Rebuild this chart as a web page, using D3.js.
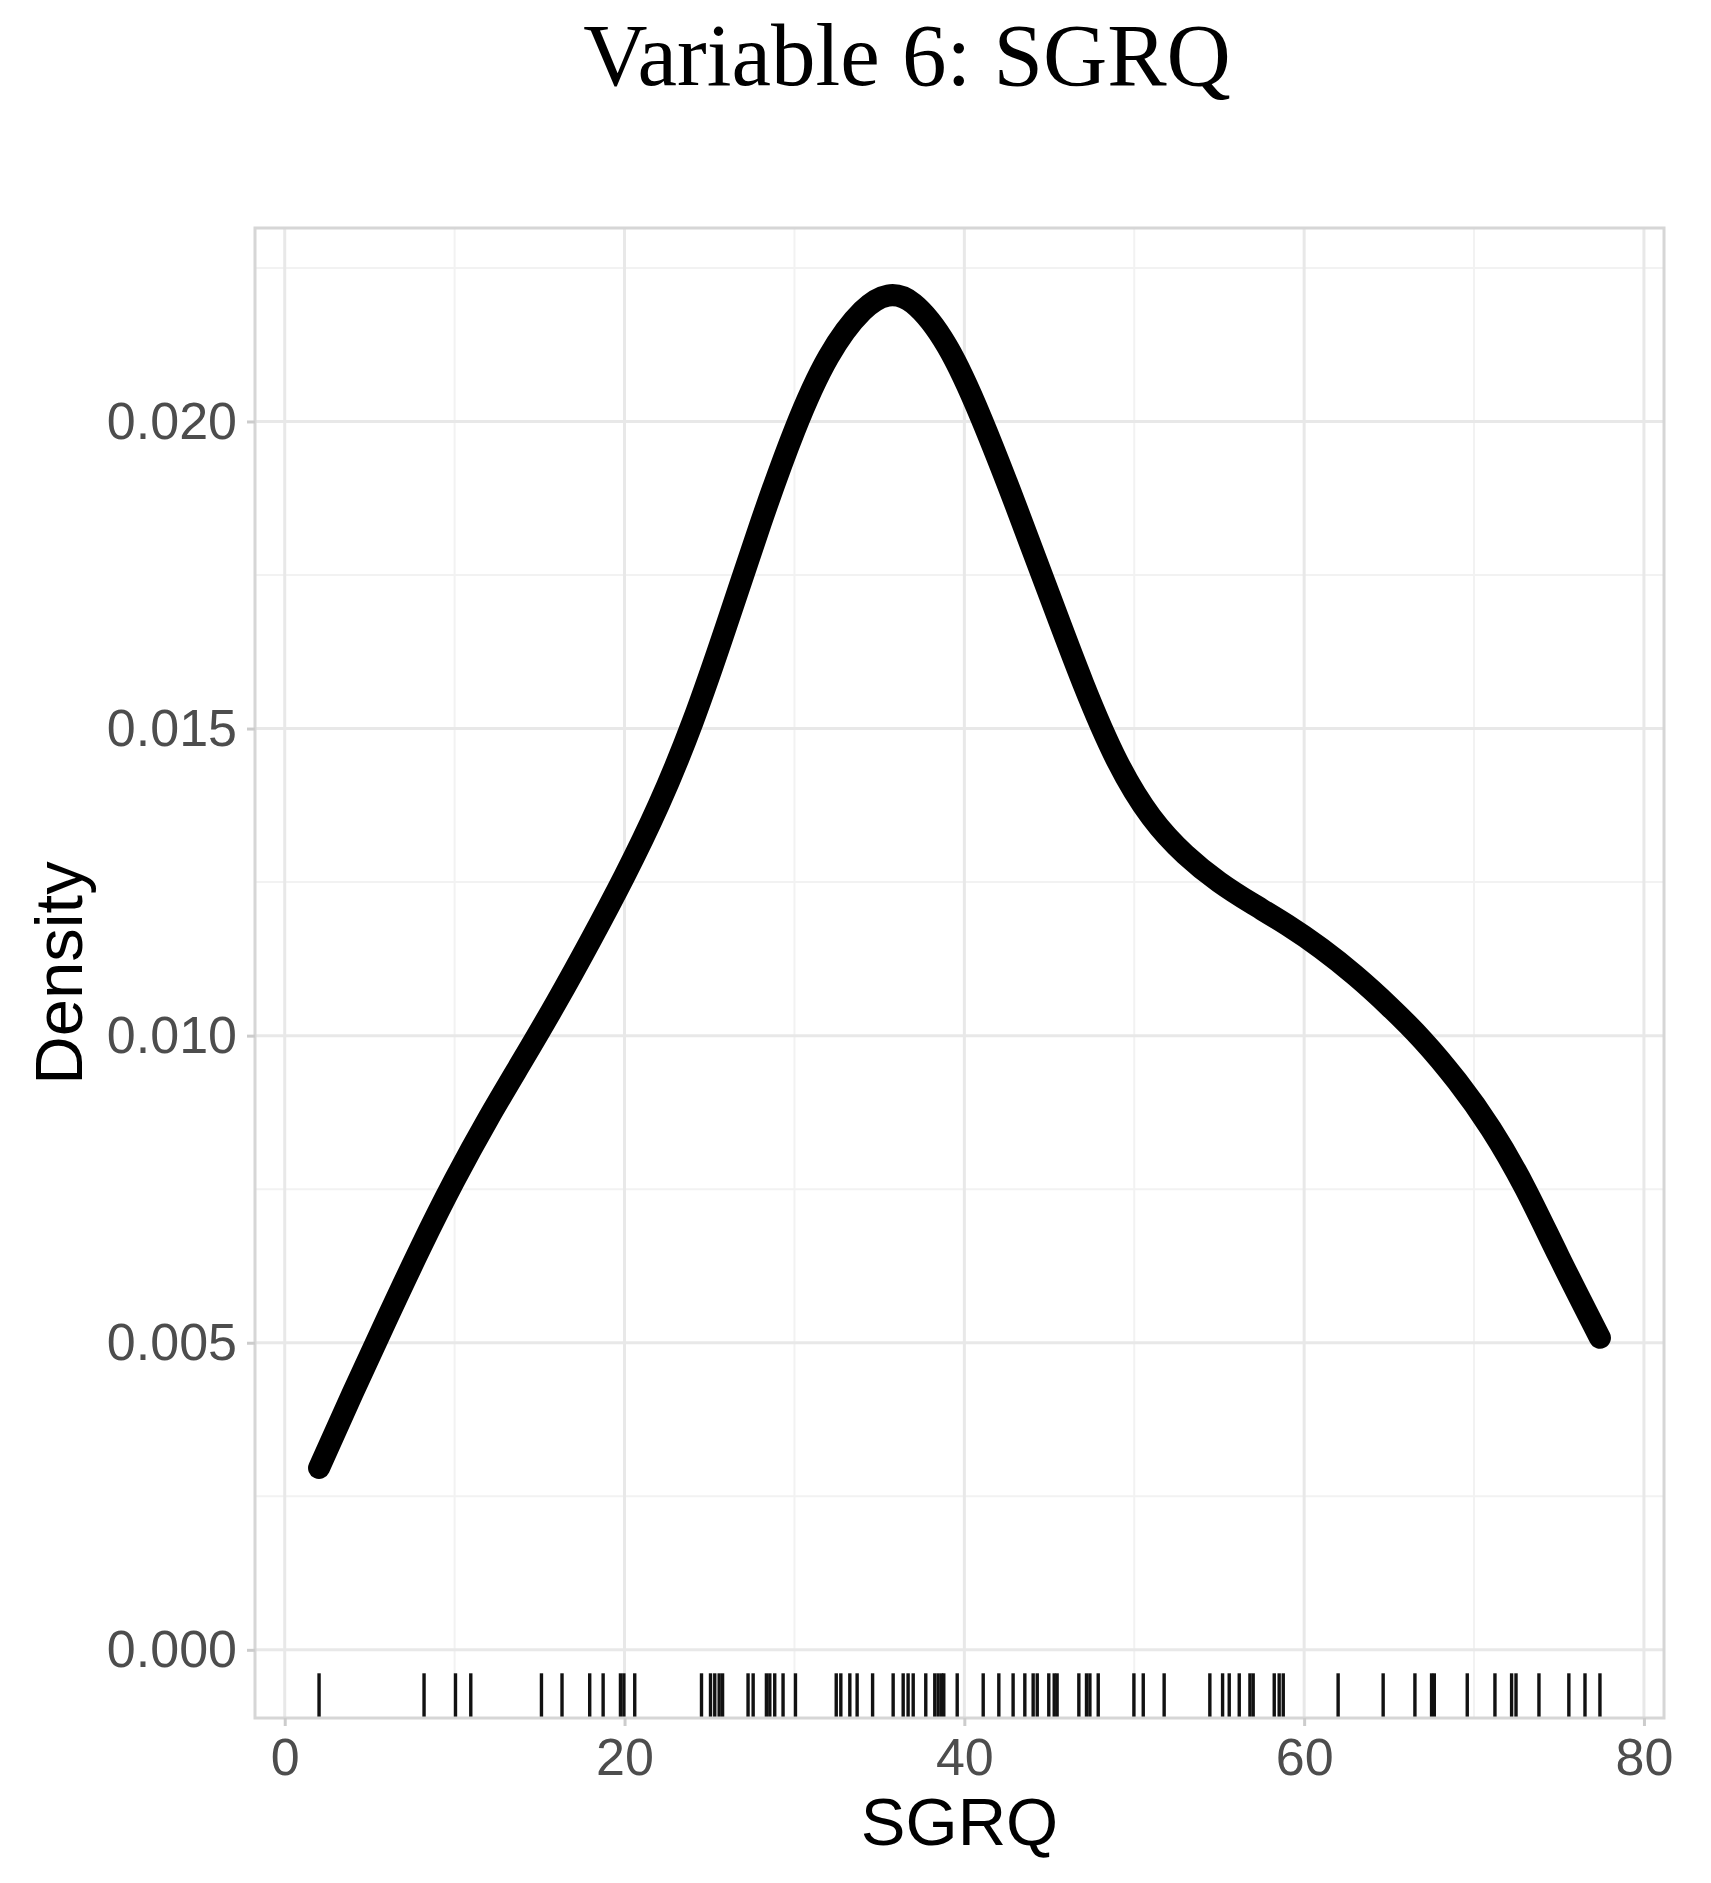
<!DOCTYPE html>
<html>
<head>
<meta charset="utf-8">
<script src="https://cdn.jsdelivr.net/npm/d3@7"></script>
<style>
  html, body { margin: 0; padding: 0; background: #ffffff; }
  svg { display: block; }
</style>
</head>
<body>
<div id="chart"></div>
<script>
// ---- data ----
const densityX = [2.02, 4, 6, 8, 10, 12, 14, 16, 18, 20, 22, 24, 26, 28, 30, 32, 34, 35.5, 37, 39, 41, 43, 45, 47, 49, 51, 53, 55, 57, 59, 61, 63, 65, 67, 69, 71, 73, 75, 77.41];
const densityY = [0.00296, 0.00418, 0.00538, 0.00655, 0.00765, 0.00866, 0.00960, 0.01055, 0.01155, 0.01260, 0.01375, 0.01510, 0.01668, 0.01833, 0.01985, 0.02105, 0.02180, 0.02205, 0.02192, 0.02122, 0.02005, 0.01865, 0.01718, 0.01573, 0.01447, 0.01356, 0.01295, 0.01250, 0.01214, 0.01180, 0.01142, 0.01098, 0.01048, 0.00992, 0.00926, 0.00848, 0.00752, 0.00640, 0.00508];
const rugValues = [2.02, 8.20, 10.05, 10.95, 15.11, 16.32, 17.95, 18.74, 19.76, 19.96, 20.6,
  24.53, 25.06, 25.31, 25.57, 25.77, 27.27, 27.57, 28.35, 28.55, 28.84, 29.33, 30.06,
  32.46, 32.73, 33.26, 33.69, 34.60, 35.81, 36.40, 36.69, 36.99, 37.73, 38.26, 38.46, 38.66, 38.79, 39.58,
  41.11, 42.03, 42.87, 43.56, 44.05, 44.29, 44.97, 45.29, 45.46, 46.74, 47.19, 47.39, 47.88,
  49.98, 50.53, 51.76, 54.45, 55.20, 55.59, 56.18, 56.81, 57.0, 58.24, 58.53, 58.77, 62.0,
  64.65, 66.52, 67.50, 67.66, 69.6, 71.23, 72.21, 72.47, 73.82, 75.58, 76.53, 77.41];
const xTicks = [0, 20, 40, 60, 80];
const xMinor = [10, 30, 50, 70];
const yTicks = [0.000, 0.005, 0.010, 0.015, 0.020];
const yMinor = [0.0025, 0.0075, 0.0125, 0.0175, 0.0225];
const titleText = "Variable 6: SGRQ";
const xTitle = "SGRQ";
const yTitle = "Density";

// ---- layout ----
const W = 1711, H = 1883;
const panel = { left: 255, right: 1664, top: 228, bottom: 1718 };

const svg = d3.select("#chart").append("svg")
  .attr("width", W).attr("height", H)
  .attr("viewBox", `0 0 ${W} ${H}`);
svg.append("rect").attr("width", W).attr("height", H).attr("fill", "#ffffff");

const x = d3.scaleLinear().domain([-1.75, 81.18]).range([panel.left, panel.right]);
const y = d3.scaleLinear().domain([-0.00111, 0.02315]).range([panel.bottom, panel.top]);

const g = svg.append("g");

// minor grid
g.selectAll("line.xminor").data(xMinor).join("line")
  .attr("x1", d => x(d)).attr("x2", d => x(d))
  .attr("y1", panel.top).attr("y2", panel.bottom)
  .attr("stroke", "#f2f2f2").attr("stroke-width", 2);
g.selectAll("line.yminor").data(yMinor).join("line")
  .attr("y1", d => y(d)).attr("y2", d => y(d))
  .attr("x1", panel.left).attr("x2", panel.right)
  .attr("stroke", "#f2f2f2").attr("stroke-width", 2);
// major grid
g.selectAll("line.xmajor").data(xTicks).join("line")
  .attr("x1", d => x(d)).attr("x2", d => x(d))
  .attr("y1", panel.top).attr("y2", panel.bottom)
  .attr("stroke", "#e8e8e8").attr("stroke-width", 3);
g.selectAll("line.ymajor").data(yTicks).join("line")
  .attr("y1", d => y(d)).attr("y2", d => y(d))
  .attr("x1", panel.left).attr("x2", panel.right)
  .attr("stroke", "#e8e8e8").attr("stroke-width", 3);

// density curve
const pts = densityX.map((d, i) => [d, densityY[i]]);
const line = d3.line().x(d => x(d[0])).y(d => y(d[1])).curve(d3.curveNatural);
g.append("path").datum(pts)
  .attr("d", line)
  .attr("fill", "none").attr("stroke", "#000000")
  .attr("stroke-width", 22).attr("stroke-linecap", "round").attr("stroke-linejoin", "round");

// rug
const rugLen = 0.03 * (panel.bottom - panel.top);
g.selectAll("line.rug").data(rugValues).join("line")
  .attr("x1", d => x(d)).attr("x2", d => x(d))
  .attr("y1", panel.bottom).attr("y2", panel.bottom - rugLen)
  .attr("stroke", "#111111").attr("stroke-width", 3.4);

// panel border
svg.append("rect")
  .attr("x", panel.left).attr("y", panel.top)
  .attr("width", panel.right - panel.left).attr("height", panel.bottom - panel.top)
  .attr("fill", "none").attr("stroke", "#d6d6d6").attr("stroke-width", 3);

// axes
const xAxis = d3.axisBottom(x).tickValues(xTicks).tickSize(8).tickPadding(12).tickFormat(d3.format("d"));
const yAxis = d3.axisLeft(y).tickValues(yTicks).tickSize(8).tickPadding(10).tickFormat(d3.format(".3f"));

const gx = svg.append("g").attr("transform", `translate(0,${panel.bottom})`).call(xAxis);
const gy = svg.append("g").attr("transform", `translate(${panel.left},0)`).call(yAxis);
[gx, gy].forEach(a => {
  a.select(".domain").remove();
  a.selectAll(".tick line").attr("stroke", "#cccccc").attr("stroke-width", 3);
  a.selectAll(".tick text")
    .attr("fill", "#4d4d4d")
    .style("font-family", "'Liberation Sans', Arial, sans-serif")
    .style("font-size", "52px");
});
gx.selectAll(".tick text").attr("dy", "0.71em");

// titles
svg.append("text")
  .attr("x", 907).attr("y", 85)
  .attr("text-anchor", "middle")
  .style("font-family", "'Liberation Serif', 'Times New Roman', serif")
  .style("font-size", "89px")
  .attr("fill", "#000")
  .text(titleText);

svg.append("text")
  .attr("x", (panel.left + panel.right) / 2).attr("y", 1845)
  .attr("text-anchor", "middle")
  .style("font-family", "'Liberation Sans', Arial, sans-serif")
  .style("font-size", "67px")
  .attr("fill", "#000")
  .text(xTitle);

svg.append("text")
  .attr("transform", `translate(82,${(panel.top + panel.bottom) / 2}) rotate(-90)`)
  .attr("text-anchor", "middle")
  .style("font-family", "'Liberation Sans', Arial, sans-serif")
  .style("font-size", "67px")
  .attr("fill", "#000")
  .text(yTitle);
</script>
</body>
</html>
